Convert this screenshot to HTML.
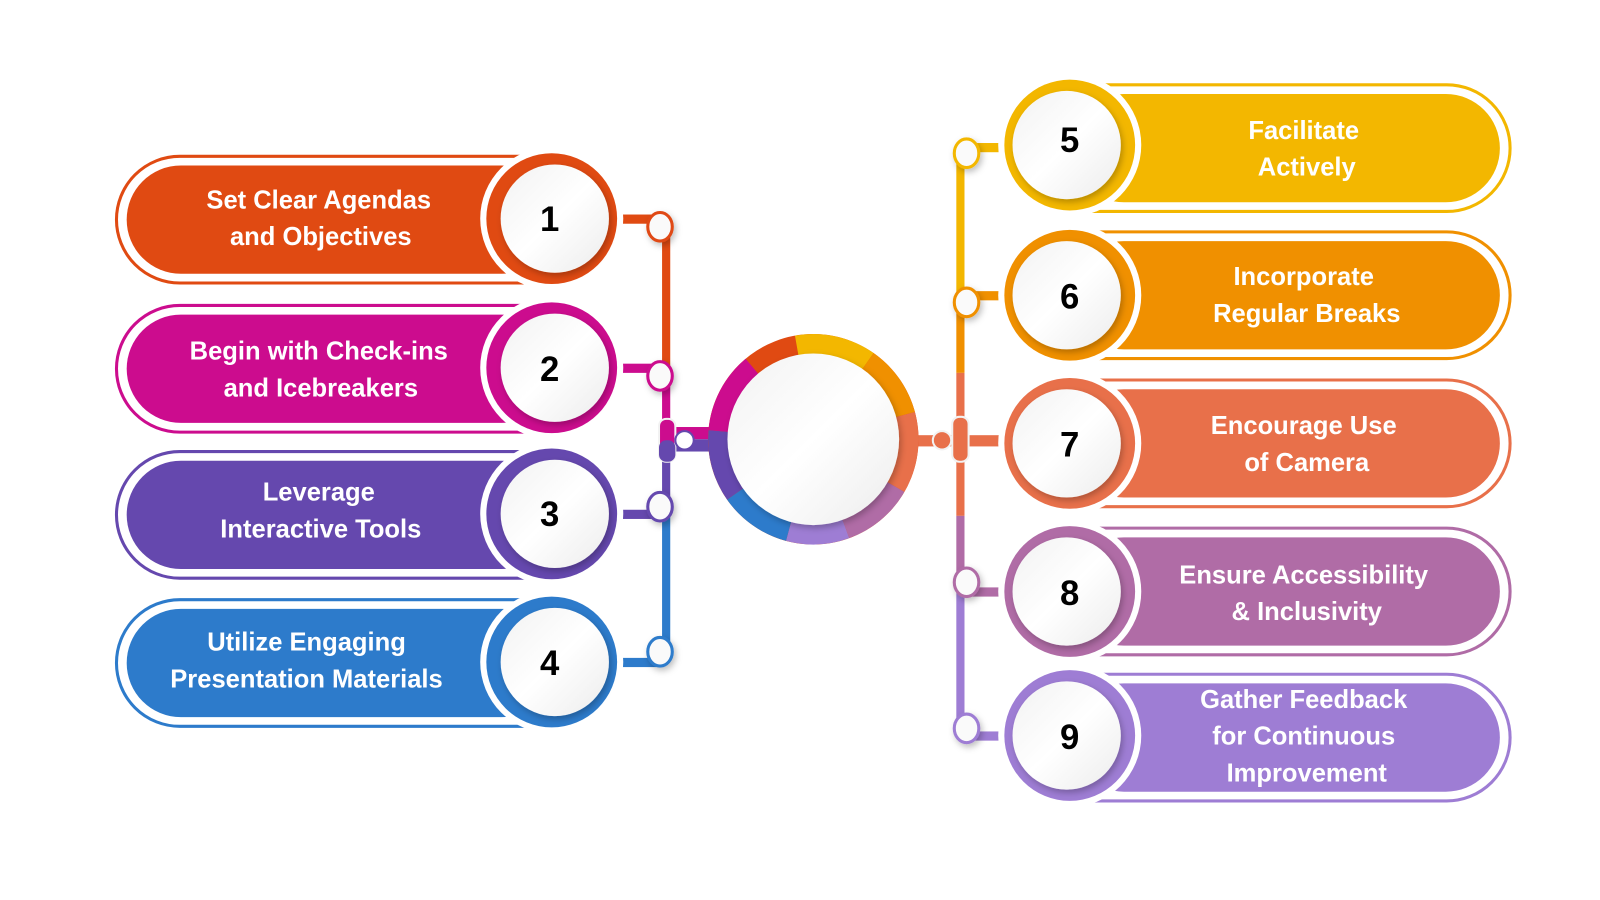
<!DOCTYPE html>
<html><head><meta charset="utf-8"><style>
html,body{margin:0;padding:0;background:#fff;width:1600px;height:900px;overflow:hidden}
svg{display:block}
text{font-family:"Liberation Sans",sans-serif;font-weight:bold}
</style></head><body>
<svg width="1600" height="900" viewBox="0 0 1566 881" preserveAspectRatio="none" xmlns="http://www.w3.org/2000/svg">
<defs>
<linearGradient id="wg" x1="0" y1="0" x2="1" y2="1"><stop offset="0" stop-color="#f2f2f2"/><stop offset="0.5" stop-color="#ffffff"/><stop offset="1" stop-color="#ececec"/></linearGradient>
<filter id="sh" x="-30%" y="-30%" width="160%" height="160%"><feDropShadow dx="2" dy="3" stdDeviation="3" flood-color="#000" flood-opacity="0.25"/></filter>
</defs>

<line x1="652" y1="214" x2="652" y2="360" stroke="#E04A12" stroke-width="8"/>
<line x1="652" y1="360" x2="652" y2="430" stroke="#CC0C8E" stroke-width="8"/>
<line x1="652" y1="430" x2="652" y2="503" stroke="#6548AE" stroke-width="8"/>
<line x1="652" y1="503" x2="652" y2="648" stroke="#2D7BCB" stroke-width="8"/>
<rect x="600" y="210" width="50" height="9" fill="#E04A12"/>
<rect x="600" y="356" width="50" height="9" fill="#CC0C8E"/>
<rect x="600" y="499" width="50" height="9" fill="#6548AE"/>
<rect x="600" y="644" width="50" height="9" fill="#2D7BCB"/>
<rect x="648" y="418" width="70" height="12" fill="#CC0C8E"/>
<rect x="648" y="430" width="70" height="12" fill="#6548AE"/>
<rect x="645" y="410" width="16" height="42" rx="7" fill="#CC0C8E" stroke="#f2f2f2" stroke-width="2"/>
<rect x="645" y="431" width="16" height="21" rx="7" fill="#6548AE"/>
<circle cx="670" cy="431" r="9" fill="#fff" stroke="#6548AE" stroke-width="2"/>

<line x1="940" y1="145" x2="940" y2="289" stroke="#F3B700" stroke-width="8"/>
<line x1="940" y1="289" x2="940" y2="365" stroke="#F09000" stroke-width="8"/>
<line x1="940" y1="365" x2="940" y2="505" stroke="#E8704A" stroke-width="8"/>
<line x1="940" y1="505" x2="940" y2="580" stroke="#B06CA6" stroke-width="8"/>
<line x1="940" y1="580" x2="940" y2="715" stroke="#9E7DD4" stroke-width="8"/>
<rect x="940" y="140" width="50" height="9" fill="#F3B700"/>
<rect x="940" y="285" width="50" height="9" fill="#F09000"/>
<rect x="880" y="426" width="110" height="11" fill="#E8704A"/>
<rect x="940" y="575" width="50" height="9" fill="#B06CA6"/>
<rect x="940" y="716" width="50" height="9" fill="#9E7DD4"/>
<rect x="932" y="408" width="16" height="44" rx="7" fill="#E8704A" stroke="#f2f2f2" stroke-width="2"/>
<circle cx="922" cy="431" r="9" fill="#E8704A" stroke="#f2f2f2" stroke-width="2"/>

<g fill="#fafafa" stroke-width="3" filter="url(#sh)">
<ellipse cx="646" cy="222" rx="12" ry="14" stroke="#E04A12"/>
<ellipse cx="646" cy="368" rx="12" ry="14" stroke="#CC0C8E"/>
<ellipse cx="646" cy="496" rx="12" ry="14" stroke="#6548AE"/>
<ellipse cx="646" cy="638" rx="12" ry="14" stroke="#2D7BCB"/>
<ellipse cx="946" cy="150" rx="12" ry="14" stroke="#F3B700"/>
<ellipse cx="946" cy="296" rx="12" ry="14" stroke="#F09000"/>
<ellipse cx="946" cy="570" rx="12" ry="14" stroke="#B06CA6"/>
<ellipse cx="946" cy="713" rx="12" ry="14" stroke="#9E7DD4"/>
</g>

<g transform="translate(796,430)" fill="none" stroke-width="20">
<circle r="93" stroke="#E04A12"/>
<path d="M -16.2 -91.6 A 93 93 0 0 1 53.3 -76.2" stroke="#F3B700"/>
<path d="M 53.3 -76.2 A 93 93 0 0 1 89.8 -24.1" stroke="#F09000"/>
<path d="M 89.8 -24.1 A 93 93 0 0 1 80.5 46.5" stroke="#E8704A"/>
<path d="M 80.5 46.5 A 93 93 0 0 1 31.8 87.4" stroke="#B06CA6"/>
<path d="M 31.8 87.4 A 93 93 0 0 1 -24.1 89.8" stroke="#9E7DD4"/>
<path d="M -24.1 89.8 A 93 93 0 0 1 -76.2 53.3" stroke="#2D7BCB"/>
<path d="M -76.2 53.3 A 93 93 0 0 1 -92.6 -8.1" stroke="#6548AE"/>
<path d="M -92.6 -8.1 A 93 93 0 0 1 -59.8 -71.2" stroke="#CC0C8E"/>
</g>
<circle cx="796" cy="430" r="84" fill="url(#wg)" filter="url(#sh)"/>

<g>
<rect x="114" y="153" width="492" height="124" rx="62" fill="#fff" stroke="#E04A12" stroke-width="3"/>
<rect x="124" y="162" width="420" height="106" rx="53" fill="#E04A12"/>
<circle cx="540" cy="214" r="70" fill="#fff"/>
<circle cx="540" cy="214" r="64" fill="#E04A12"/>
<circle cx="543" cy="214" r="53" fill="url(#wg)" filter="url(#sh)"/>
<text x="312" y="204" font-size="25" fill="#fff" text-anchor="middle">Set Clear Agendas</text>
<text x="314" y="240" font-size="25" fill="#fff" text-anchor="middle">and Objectives</text>
<text x="538" y="226" font-size="34" fill="#000" text-anchor="middle">1</text>
</g>
<g>
<rect x="114" y="299" width="492" height="124" rx="62" fill="#fff" stroke="#CC0C8E" stroke-width="3"/>
<rect x="124" y="308" width="420" height="106" rx="53" fill="#CC0C8E"/>
<circle cx="540" cy="360" r="70" fill="#fff"/>
<circle cx="540" cy="360" r="64" fill="#CC0C8E"/>
<circle cx="543" cy="360" r="53" fill="url(#wg)" filter="url(#sh)"/>
<text x="312" y="352" font-size="25" fill="#fff" text-anchor="middle">Begin with Check-ins</text>
<text x="314" y="388" font-size="25" fill="#fff" text-anchor="middle">and Icebreakers</text>
<text x="538" y="373" font-size="34" fill="#000" text-anchor="middle">2</text>
</g>
<g>
<rect x="114" y="442" width="492" height="124" rx="62" fill="#fff" stroke="#6548AE" stroke-width="3"/>
<rect x="124" y="451" width="420" height="106" rx="53" fill="#6548AE"/>
<circle cx="540" cy="503" r="70" fill="#fff"/>
<circle cx="540" cy="503" r="64" fill="#6548AE"/>
<circle cx="543" cy="503" r="53" fill="url(#wg)" filter="url(#sh)"/>
<text x="312" y="490" font-size="25" fill="#fff" text-anchor="middle">Leverage</text>
<text x="314" y="526" font-size="25" fill="#fff" text-anchor="middle">Interactive Tools</text>
<text x="538" y="515" font-size="34" fill="#000" text-anchor="middle">3</text>
</g>
<g>
<rect x="114" y="587" width="492" height="124" rx="62" fill="#fff" stroke="#2D7BCB" stroke-width="3"/>
<rect x="124" y="596" width="420" height="106" rx="53" fill="#2D7BCB"/>
<circle cx="540" cy="648" r="70" fill="#fff"/>
<circle cx="540" cy="648" r="64" fill="#2D7BCB"/>
<circle cx="543" cy="648" r="53" fill="url(#wg)" filter="url(#sh)"/>
<text x="300" y="637" font-size="25" fill="#fff" text-anchor="middle">Utilize Engaging</text>
<text x="300" y="673" font-size="25" fill="#fff" text-anchor="middle">Presentation Materials</text>
<text x="538" y="661" font-size="34" fill="#000" text-anchor="middle">4</text>
</g>

<g>
<rect x="986" y="83" width="492" height="124" rx="62" fill="#fff" stroke="#F3B700" stroke-width="3"/>
<rect x="1047" y="92" width="421" height="106" rx="53" fill="#F3B700"/>
<circle cx="1047" cy="142" r="70" fill="#fff"/>
<circle cx="1047" cy="142" r="64" fill="#F3B700"/>
<circle cx="1044" cy="142" r="53" fill="url(#wg)" filter="url(#sh)"/>
<text x="1276" y="136" font-size="25" fill="#fff" text-anchor="middle">Facilitate</text>
<text x="1279" y="172" font-size="25" fill="#fff" text-anchor="middle">Actively</text>
<text x="1047" y="149" font-size="34" fill="#000" text-anchor="middle">5</text>
</g>
<g>
<rect x="986" y="227" width="492" height="124" rx="62" fill="#fff" stroke="#F09000" stroke-width="3"/>
<rect x="1047" y="236" width="421" height="106" rx="53" fill="#F09000"/>
<circle cx="1047" cy="289" r="70" fill="#fff"/>
<circle cx="1047" cy="289" r="64" fill="#F09000"/>
<circle cx="1044" cy="289" r="53" fill="url(#wg)" filter="url(#sh)"/>
<text x="1276" y="279" font-size="25" fill="#fff" text-anchor="middle">Incorporate</text>
<text x="1279" y="315" font-size="25" fill="#fff" text-anchor="middle">Regular Breaks</text>
<text x="1047" y="302" font-size="34" fill="#000" text-anchor="middle">6</text>
</g>
<g>
<rect x="986" y="372" width="492" height="124" rx="62" fill="#fff" stroke="#E8704A" stroke-width="3"/>
<rect x="1047" y="381" width="421" height="106" rx="53" fill="#E8704A"/>
<circle cx="1047" cy="434" r="70" fill="#fff"/>
<circle cx="1047" cy="434" r="64" fill="#E8704A"/>
<circle cx="1044" cy="434" r="53" fill="url(#wg)" filter="url(#sh)"/>
<text x="1276" y="425" font-size="25" fill="#fff" text-anchor="middle">Encourage Use</text>
<text x="1279" y="461" font-size="25" fill="#fff" text-anchor="middle">of Camera</text>
<text x="1047" y="447" font-size="34" fill="#000" text-anchor="middle">7</text>
</g>
<g>
<rect x="986" y="517" width="492" height="124" rx="62" fill="#fff" stroke="#B06CA6" stroke-width="3"/>
<rect x="1047" y="526" width="421" height="106" rx="53" fill="#B06CA6"/>
<circle cx="1047" cy="579" r="70" fill="#fff"/>
<circle cx="1047" cy="579" r="64" fill="#B06CA6"/>
<circle cx="1044" cy="579" r="53" fill="url(#wg)" filter="url(#sh)"/>
<text x="1276" y="571" font-size="25" fill="#fff" text-anchor="middle">Ensure Accessibility</text>
<text x="1279" y="607" font-size="25" fill="#fff" text-anchor="middle">&amp; Inclusivity</text>
<text x="1047" y="592" font-size="34" fill="#000" text-anchor="middle">8</text>
</g>
<g>
<rect x="986" y="660" width="492" height="124" rx="62" fill="#fff" stroke="#9E7DD4" stroke-width="3"/>
<rect x="1047" y="669" width="421" height="106" rx="53" fill="#9E7DD4"/>
<circle cx="1047" cy="720" r="70" fill="#fff"/>
<circle cx="1047" cy="720" r="64" fill="#9E7DD4"/>
<circle cx="1044" cy="720" r="53" fill="url(#wg)" filter="url(#sh)"/>
<text x="1276" y="693" font-size="25" fill="#fff" text-anchor="middle">Gather Feedback</text>
<text x="1276" y="729" font-size="25" fill="#fff" text-anchor="middle">for Continuous</text>
<text x="1279" y="765" font-size="25" fill="#fff" text-anchor="middle">Improvement</text>
<text x="1047" y="733" font-size="34" fill="#000" text-anchor="middle">9</text>
</g>
</svg>
</body></html>
